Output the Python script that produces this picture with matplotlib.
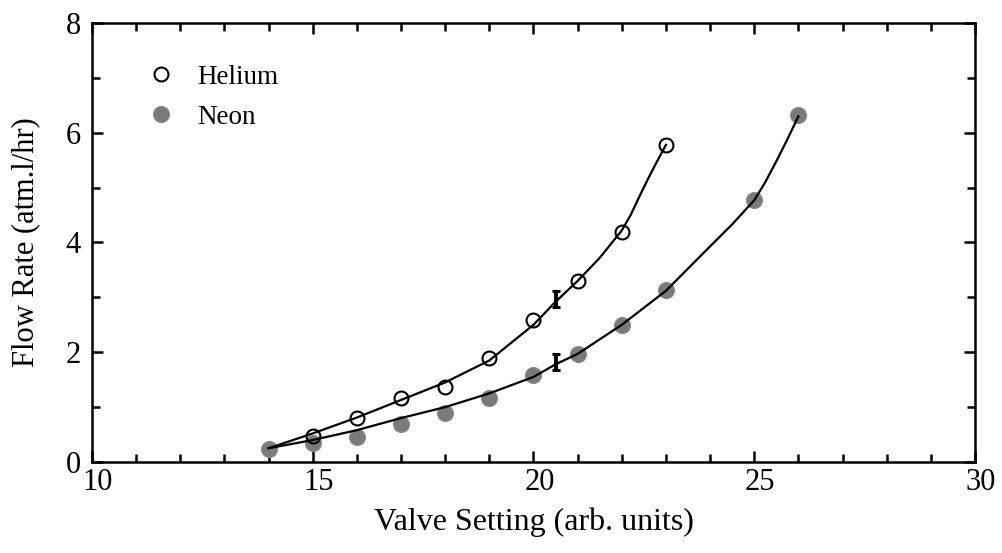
import numpy as np
import matplotlib.pyplot as plt
import matplotlib.transforms as mtransforms
from matplotlib.ticker import MultipleLocator

# measured flow rates
he_setting = [15, 16, 17, 18, 19, 20, 21, 22, 23]
he_flow = [0.47, 0.80, 1.17, 1.37, 1.89, 2.59, 3.30, 4.19, 5.77]

ne_setting = [14, 15, 16, 17, 18, 19, 20, 21, 22, 23, 25, 26]
ne_flow = [0.24, 0.34, 0.45, 0.69, 0.89, 1.17, 1.58, 1.97, 2.50, 3.13, 4.77, 6.32]

# fitted curves
he_fit_x = [14, 15, 16, 17, 18, 19, 20, 20.5, 21, 21.5, 22, 22.2, 22.4, 22.6, 22.8, 23]
he_fit_y = [0.25, 0.52, 0.81, 1.13, 1.45, 1.85, 2.50, 2.92, 3.30, 3.72, 4.22, 4.50,
            4.84, 5.17, 5.48, 5.78]

ne_fit_x = [14, 15, 16, 17, 18, 19, 20, 20.5, 21, 22, 23, 24, 24.5, 25, 25.25, 25.5,
            25.75, 26]
ne_fit_y = [0.25, 0.40, 0.58, 0.80, 1.00, 1.25, 1.55, 1.78, 1.97, 2.50, 3.12, 3.93,
            4.33, 4.77, 5.10, 5.48, 5.88, 6.30]

# typical uncertainty
err_x = [20.5, 20.5]
err_y = [2.97, 1.82]
err_dy = [0.15, 0.15]

plt.rcParams['font.family'] = ['Liberation Serif', 'DejaVu Serif']

fig = plt.figure(figsize=(10.03, 5.53), dpi=100)
ax = fig.add_axes([0.0917, 0.1646, 0.8804, 0.7938])

ax.plot(ne_setting, ne_flow, 'o', ms=11.5, mfc='#7a7a7a', mec='#8a8a8a', mew=0.8,
        label='Neon', zorder=2)
ax.plot(ne_fit_x, ne_fit_y, '-', color='black', lw=1.6, zorder=3)
ax.plot(he_fit_x, he_fit_y, '-', color='black', lw=1.6, zorder=3)
ax.plot(he_setting, he_flow, 'o', ms=10, mfc='none', mec='black', mew=1.5,
        label='Helium', zorder=4)
ax.errorbar(err_x, err_y, yerr=err_dy, fmt='none', ecolor='black',
            elinewidth=2.8, capsize=3, capthick=2.2, zorder=5)

ax.set_xlim(10, 30)
ax.set_ylim(0, 8)
ax.xaxis.set_major_locator(MultipleLocator(5))
ax.xaxis.set_minor_locator(MultipleLocator(1))
ax.yaxis.set_major_locator(MultipleLocator(2))
ax.yaxis.set_minor_locator(MultipleLocator(1))
ax.tick_params(which='both', direction='in', top=True, right=True,
               width=1.8, labelsize=22)
ax.tick_params(axis='x', pad=4)
ax.tick_params(axis='y', pad=8)
ax.tick_params(which='major', length=8)
ax.tick_params(which='minor', length=6)
for s in ax.spines.values():
    s.set_linewidth(1.8)

# nudge the x tick labels a little to the right
shift = mtransforms.ScaledTranslation(6 / 100, 0, fig.dpi_scale_trans)
for lbl in ax.get_xticklabels():
    lbl.set_transform(lbl.get_transform() + shift)

ax.set_xlabel('Valve Setting (arb. units)', fontsize=23, labelpad=8)
ax.set_ylabel('Flow Rate (atm.l/hr)', fontsize=22, labelpad=18)

handles, labels = ax.get_legend_handles_labels()
ax.legend(handles[::-1], labels[::-1], loc='upper left', frameon=False,
          fontsize=19.5, bbox_to_anchor=(0.032, 0.96), handletextpad=0.75,
          labelspacing=0.55, handlelength=1.2)

fig.savefig('out.png', dpi=100)
